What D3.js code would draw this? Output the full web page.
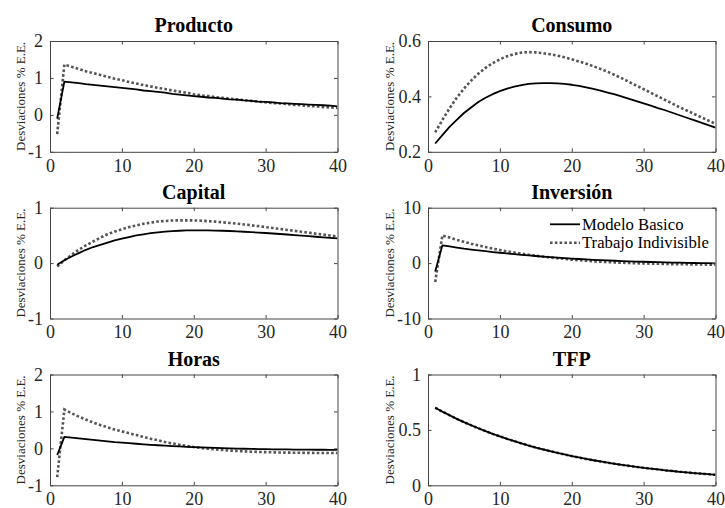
<!DOCTYPE html>
<html>
<head>
<meta charset="utf-8">
<script src="https://cdn.jsdelivr.net/npm/d3@7/dist/d3.min.js"></script>
<style>
  html, body { margin: 0; padding: 0; background: #fff; }
  svg { display: block; }
</style>
</head>
<body>
<svg id="chart" width="725" height="508"></svg>
<script>
// Impulse responses, periods 1..40
const periods = d3.range(1, 41);
const seriesNames = ["Modelo Basico", "Trabajo Indivisible"];
const xTicks = [0, 10, 20, 30, 40];

const productoBasico = [-0.10, 0.90, 0.88, 0.86, 0.83, 0.81, 0.79, 0.77, 0.75, 0.73,
  0.71, 0.69, 0.66, 0.64, 0.62, 0.60, 0.57, 0.55, 0.53, 0.51,
  0.49, 0.47, 0.46, 0.44, 0.42, 0.41, 0.39, 0.38, 0.36, 0.35,
  0.34, 0.32, 0.31, 0.30, 0.29, 0.28, 0.27, 0.26, 0.25, 0.23];
const productoIndiv = [-0.52, 1.36, 1.30, 1.24, 1.18, 1.13, 1.08, 1.03, 0.98, 0.94,
  0.89, 0.85, 0.81, 0.77, 0.73, 0.70, 0.66, 0.63, 0.60, 0.56,
  0.53, 0.51, 0.48, 0.46, 0.44, 0.42, 0.40, 0.38, 0.36, 0.34,
  0.32, 0.31, 0.29, 0.27, 0.26, 0.24, 0.23, 0.21, 0.20, 0.19];

const consumoBasico = [0.230, 0.260, 0.290, 0.315, 0.340, 0.360, 0.380, 0.395, 0.408, 0.419,
  0.428, 0.435, 0.441, 0.445, 0.447, 0.448, 0.448, 0.447, 0.445, 0.442,
  0.438, 0.433, 0.427, 0.421, 0.414, 0.407, 0.399, 0.391, 0.383, 0.375,
  0.367, 0.358, 0.350, 0.341, 0.332, 0.323, 0.314, 0.305, 0.296, 0.287];
const consumoIndiv = [0.270, 0.315, 0.357, 0.395, 0.428, 0.457, 0.482, 0.503, 0.520, 0.534,
  0.545, 0.553, 0.558, 0.560, 0.559, 0.556, 0.552, 0.547, 0.541, 0.534,
  0.526, 0.518, 0.509, 0.499, 0.489, 0.477, 0.465, 0.452, 0.439, 0.426,
  0.413, 0.400, 0.387, 0.374, 0.361, 0.349, 0.337, 0.325, 0.313, 0.301];

const capitalBasico = [-0.03, 0.05, 0.12, 0.18, 0.24, 0.29, 0.33, 0.37, 0.41, 0.44,
  0.47, 0.50, 0.52, 0.54, 0.555, 0.567, 0.577, 0.584, 0.589, 0.591,
  0.592, 0.591, 0.588, 0.584, 0.579, 0.573, 0.566, 0.559, 0.551, 0.543,
  0.534, 0.525, 0.516, 0.506, 0.496, 0.486, 0.476, 0.466, 0.456, 0.446];
const capitalIndiv = [-0.06, 0.05, 0.15, 0.24, 0.32, 0.39, 0.46, 0.52, 0.57, 0.61,
  0.65, 0.68, 0.71, 0.73, 0.75, 0.76, 0.77, 0.772, 0.772, 0.77,
  0.765, 0.757, 0.748, 0.737, 0.725, 0.712, 0.698, 0.683, 0.667, 0.650,
  0.633, 0.616, 0.599, 0.582, 0.565, 0.548, 0.531, 0.514, 0.497, 0.480];

const inversionBasico = [-1.5, 3.2, 3.0, 2.8, 2.6, 2.45, 2.3, 2.15, 2.0, 1.87,
  1.74, 1.62, 1.50, 1.39, 1.28, 1.18, 1.08, 0.99, 0.90, 0.82,
  0.74, 0.67, 0.60, 0.54, 0.48, 0.42, 0.37, 0.32, 0.28, 0.24,
  0.20, 0.16, 0.13, 0.10, 0.07, 0.04, 0.02, 0.00, -0.02, -0.04];
const inversionIndiv = [-3.4, 5.0, 4.6, 4.2, 3.85, 3.5, 3.2, 2.9, 2.62, 2.37,
  2.13, 1.91, 1.70, 1.51, 1.33, 1.17, 1.02, 0.88, 0.75, 0.63,
  0.52, 0.42, 0.33, 0.25, 0.18, 0.12, 0.06, 0.01, -0.03, -0.07,
  -0.10, -0.13, -0.16, -0.18, -0.20, -0.22, -0.24, -0.25, -0.27, -0.28];

const horasBasico = [-0.18, 0.31, 0.29, 0.27, 0.25, 0.23, 0.21, 0.19, 0.17, 0.155,
  0.14, 0.125, 0.11, 0.097, 0.085, 0.073, 0.062, 0.052, 0.043, 0.034,
  0.026, 0.019, 0.012, 0.006, 0.0, -0.005, -0.01, -0.014, -0.018, -0.022,
  -0.025, -0.028, -0.030, -0.032, -0.034, -0.036, -0.037, -0.038, -0.039, -0.040];
const horasIndiv = [-0.78, 1.05, 0.95, 0.86, 0.78, 0.70, 0.63, 0.57, 0.51, 0.46,
  0.41, 0.36, 0.31, 0.26, 0.22, 0.17, 0.135, 0.10, 0.065, 0.035,
  0.01, -0.01, -0.03, -0.045, -0.06, -0.07, -0.08, -0.09, -0.097, -0.103,
  -0.108, -0.112, -0.115, -0.118, -0.120, -0.122, -0.124, -0.125, -0.126, -0.127];

const tfpBasico = [0.700, 0.665, 0.632, 0.600, 0.570, 0.542, 0.515, 0.489, 0.464, 0.441,
  0.419, 0.398, 0.378, 0.359, 0.341, 0.324, 0.308, 0.293, 0.278, 0.264,
  0.251, 0.238, 0.226, 0.215, 0.204, 0.194, 0.184, 0.175, 0.166, 0.158,
  0.150, 0.143, 0.135, 0.129, 0.122, 0.116, 0.110, 0.105, 0.100, 0.095];
const tfpIndiv = [0.700, 0.665, 0.632, 0.600, 0.570, 0.542, 0.515, 0.489, 0.464, 0.441,
  0.419, 0.398, 0.378, 0.359, 0.341, 0.324, 0.308, 0.293, 0.278, 0.264,
  0.251, 0.238, 0.226, 0.215, 0.204, 0.194, 0.184, 0.175, 0.166, 0.158,
  0.150, 0.143, 0.135, 0.129, 0.122, 0.116, 0.110, 0.105, 0.100, 0.095];

const titles = ["Producto", "Consumo", "Capital", "Inversión", "Horas", "TFP"];
const yDomains = [[-1, 2], [0.2, 0.6], [-1, 1], [-10, 10], [-1, 2], [0, 1]];
const yTicks = [[-1, 0, 1, 2], [0.2, 0.4, 0.6], [-1, 0, 1], [-10, 0, 10], [-1, 0, 1, 2], [0, 0.5, 1]];
const basicoSeries = [productoBasico, consumoBasico, capitalBasico, inversionBasico, horasBasico, tfpBasico];
const indivSeries = [productoIndiv, consumoIndiv, capitalIndiv, inversionIndiv, horasIndiv, tfpIndiv];
const yLabel = "Desviaciones % E.E.";

// Layout of the 3x2 grid
const colLeft = [50, 428];
const colWidth = 287.5;
const rowTop = [41, 207.7, 374.5];
const rowHeight = 110.8;
const yLabelX = [24.5, 393.5];
const tickLen = 3.5;
const serif = "'Liberation Serif'";

const svg = d3.select("#chart");

const basicStyle = { stroke: "#000", width: 1.8, dash: null };
const indivStyle = { stroke: "#555", width: 2.6, dash: "2.6,2.2" };

titles.forEach((title, i) => {
  const col = i % 2, row = Math.floor(i / 2);
  const x0 = colLeft[col], y0 = rowTop[row];
  const w = colWidth, h = rowHeight;

  const x = d3.scaleLinear().domain([0, 40]).range([0, w]);
  const y = d3.scaleLinear().domain(yDomains[i]).range([h, 0]);

  const g = svg.append("g").attr("transform", `translate(${x0},${y0})`);

  // response paths, clipped to the plot box
  const line = d3.line().x((d, k) => x(periods[k])).y(d => y(d));
  const clipId = "clip" + i;
  g.append("clipPath").attr("id", clipId)
    .append("rect").attr("x", 0).attr("y", 0).attr("width", w).attr("height", h);

  const lg = g.append("g").attr("clip-path", `url(#${clipId})`);
  lg.append("path").datum(indivSeries[i])
    .attr("d", line).attr("fill", "none")
    .attr("stroke", indivStyle.stroke).attr("stroke-width", indivStyle.width)
    .attr("stroke-dasharray", indivStyle.dash);
  lg.append("path").datum(basicoSeries[i])
    .attr("d", line).attr("fill", "none")
    .attr("stroke", basicStyle.stroke).attr("stroke-width", basicStyle.width)
    .attr("stroke-linejoin", "round");

  // axes: ticks point inward on all four sides
  const fmt = v => String(v);
  const axB = d3.axisBottom(x).tickValues(xTicks).tickSizeInner(-tickLen).tickSizeOuter(0).tickPadding(7).tickFormat(fmt);
  const axT = d3.axisTop(x).tickValues(xTicks).tickSizeInner(-tickLen).tickSizeOuter(0).tickFormat("");
  const axL = d3.axisLeft(y).tickValues(yTicks[i]).tickSizeInner(-tickLen).tickSizeOuter(0).tickPadding(7).tickFormat(fmt);
  const axR = d3.axisRight(y).tickValues(yTicks[i]).tickSizeInner(-tickLen).tickSizeOuter(0).tickFormat("");

  const styleAxis = sel => {
    sel.attr("font-family", null);
    sel.select(".domain").attr("stroke", "#444").attr("stroke-width", 1);
    sel.selectAll(".tick line").attr("stroke", "#444").attr("stroke-width", 1);
    sel.selectAll(".tick text").attr("fill", "#262626").style("font-size", "18px")
      .style("font-family", serif);
  };
  g.append("g").attr("transform", `translate(0,${h})`).call(axB).call(styleAxis);
  g.append("g").call(axT).call(styleAxis);
  g.append("g").call(axL).call(styleAxis);
  g.append("g").attr("transform", `translate(${w},0)`).call(axR).call(styleAxis);

  // title
  g.append("text").attr("x", w / 2).attr("y", -9)
    .attr("text-anchor", "middle")
    .style("font-family", serif)
    .style("font-size", "20px").style("font-weight", "bold")
    .style("fill", "#000")
    .text(title);

  // y label
  svg.append("text")
    .attr("transform", `translate(${yLabelX[col]},${y0 + h / 2}) rotate(-90)`)
    .attr("text-anchor", "middle")
    .style("font-family", serif)
    .style("font-size", "13px")
    .style("fill", "#262626")
    .text(yLabel);

  // legend lives in the Inversión panel
  if (title === "Inversión") {
    const leg = svg.append("g");
    const styles = [basicStyle, indivStyle];
    const rowsY = [224.3, 242.7];
    seriesNames.forEach((name, k) => {
      const st = styles[k];
      leg.append("line")
        .attr("x1", 550).attr("x2", 580)
        .attr("y1", rowsY[k]).attr("y2", rowsY[k])
        .attr("stroke", st.stroke).attr("stroke-width", st.width)
        .attr("stroke-dasharray", st.dash);
      leg.append("text")
        .attr("x", 582).attr("y", rowsY[k]).attr("dy", "0.33em")
        .style("font-family", serif)
        .style("font-size", "16.7px")
        .style("fill", "#000")
        .text(name);
    });
  }
});
</script>
</body>
</html>
